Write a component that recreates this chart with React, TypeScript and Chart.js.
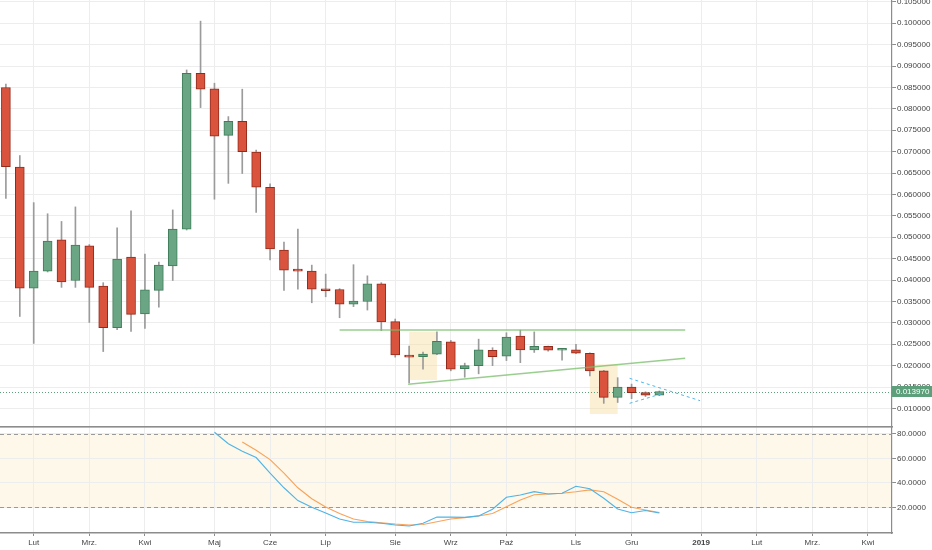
import React, { useEffect, useRef } from "react";
import { Chart, registerables } from "chart.js";

Chart.register(...registerables);

// ---------- data ----------
const weeks = [
  "2018-01-22", "2018-01-29", "2018-02-05", "2018-02-12", "2018-02-19", "2018-02-26",
  "2018-03-05", "2018-03-12", "2018-03-19", "2018-03-26", "2018-04-02", "2018-04-09",
  "2018-04-16", "2018-04-23", "2018-04-30", "2018-05-07", "2018-05-14", "2018-05-21",
  "2018-05-28", "2018-06-04", "2018-06-11", "2018-06-18", "2018-06-25", "2018-07-02",
  "2018-07-09", "2018-07-16", "2018-07-23", "2018-07-30", "2018-08-06", "2018-08-13",
  "2018-08-20", "2018-08-27", "2018-09-03", "2018-09-10", "2018-09-17", "2018-09-24",
  "2018-10-01", "2018-10-08", "2018-10-15", "2018-10-22", "2018-10-29", "2018-11-05",
  "2018-11-12", "2018-11-19", "2018-11-26", "2018-12-03", "2018-12-10", "2018-12-17",
];
const opens = [
  0.0850, 0.0664, 0.0381, 0.0421, 0.0494, 0.0399, 0.0480, 0.0386, 0.0289, 0.0454, 0.0321, 0.0376,
  0.0433, 0.0519, 0.0883, 0.0847, 0.0738, 0.0771, 0.0699, 0.0617, 0.0470, 0.0425, 0.0421, 0.0378,
  0.0378, 0.0344, 0.0350, 0.0391, 0.0303, 0.0224, 0.0221, 0.0227, 0.0256, 0.0193, 0.0200, 0.0236,
  0.0222, 0.0269, 0.0237, 0.0245, 0.0236, 0.0237, 0.0229, 0.0188, 0.0126, 0.0150, 0.0137, 0.0131,
];
const highs = [
  0.0858, 0.0691, 0.0581, 0.0555, 0.0537, 0.0571, 0.0483, 0.0394, 0.0522, 0.0562, 0.0461, 0.0442,
  0.0564, 0.0891, 0.1005, 0.0860, 0.0782, 0.0846, 0.0704, 0.0625, 0.0489, 0.0519, 0.0435, 0.0414,
  0.0380, 0.0436, 0.0410, 0.0394, 0.0309, 0.0246, 0.0232, 0.0279, 0.0259, 0.0206, 0.0262, 0.0242,
  0.0277, 0.0283, 0.0279, 0.0246, 0.0240, 0.0250, 0.0230, 0.0189, 0.0172, 0.0157, 0.0139, 0.0141,
];
const lows = [
  0.0591, 0.0315, 0.0252, 0.0419, 0.0383, 0.0383, 0.0301, 0.0233, 0.0284, 0.0280, 0.0287, 0.0337,
  0.0399, 0.0517, 0.0803, 0.0589, 0.0626, 0.0649, 0.0558, 0.0447, 0.0376, 0.0379, 0.0347, 0.0361,
  0.0312, 0.0338, 0.0330, 0.0282, 0.0220, 0.0160, 0.0192, 0.0226, 0.0188, 0.0173, 0.0181, 0.0200,
  0.0212, 0.0207, 0.0231, 0.0234, 0.0213, 0.0228, 0.0176, 0.0112, 0.0114, 0.0123, 0.0128, 0.0130,
];
const closes = [
  0.0665, 0.0381, 0.0421, 0.0491, 0.0396, 0.0482, 0.0383, 0.0289, 0.0449, 0.0320, 0.0377, 0.0435,
  0.0519, 0.0883, 0.0846, 0.0736, 0.0771, 0.0700, 0.0617, 0.0473, 0.0423, 0.0421, 0.0379, 0.0375,
  0.0344, 0.0351, 0.0391, 0.0302, 0.0225, 0.0220, 0.0227, 0.0257, 0.0192, 0.0200, 0.0237, 0.0221,
  0.0267, 0.0237, 0.0245, 0.0236, 0.0238, 0.0229, 0.0188, 0.0126, 0.0150, 0.0137, 0.0131, 0.01397,
];

// stochastic oscillator (%K blue, %D orange)
const stochKWeeks = [
  "2018-05-07", "2018-05-14", "2018-05-21", "2018-05-28", "2018-06-04", "2018-06-11", "2018-06-18",
  "2018-06-25", "2018-07-02", "2018-07-09", "2018-07-16", "2018-07-23", "2018-07-30", "2018-08-06",
  "2018-08-13", "2018-08-20", "2018-08-27", "2018-09-03", "2018-09-10", "2018-09-17", "2018-09-24",
  "2018-10-01", "2018-10-08", "2018-10-15", "2018-10-22", "2018-10-29", "2018-11-05", "2018-11-12",
  "2018-11-19", "2018-11-26", "2018-12-03", "2018-12-10", "2018-12-17",
];
const stochK = [
  81.4, 72.0, 65.8, 60.7, 48.0, 36.0, 25.5, 20.0, 15.4, 10.5, 7.8, 7.8, 7.0, 5.5, 4.7, 6.9, 12.0,
  12.0, 11.8, 13.0, 18.4, 28.2, 30.1, 32.8, 30.9, 31.5, 37.2, 35.2, 27.4, 18.6, 15.6, 17.4, 15.4,
];
const stochDWeeks = stochKWeeks.slice(2);
const stochD = [
  73.4, 66.7, 59.0, 48.0, 36.0, 27.0, 20.3, 15.0, 10.4, 8.4, 7.3, 6.3, 5.6, 6.0, 8.2, 10.5,
  11.6, 12.9, 15.0, 20.5, 26.0, 30.3, 30.9, 31.5, 32.7, 34.3, 32.8, 26.6, 20.0, 17.8, 15.8,
];

// month tick marks on the time axis
const monthTickDates = [
  "2018-02-05", "2018-03-05", "2018-04-02", "2018-05-07", "2018-06-04", "2018-07-02", "2018-08-06",
  "2018-09-03", "2018-10-01", "2018-11-05", "2018-12-03", "2019-01-07", "2019-02-04", "2019-03-04",
  "2019-04-01",
];
const monthLabels = [
  "Lut", "Mrz.", "Kwi", "Maj", "Cze", "Lip", "Sie", "Wrz", "Paź", "Lis", "Gru", "2019", "Lut", "Mrz.", "Kwi",
];
const priceTicks = [
  0.010, 0.015, 0.020, 0.025, 0.030, 0.035, 0.040, 0.045, 0.050, 0.055,
  0.060, 0.065, 0.070, 0.075, 0.080, 0.085, 0.090, 0.095, 0.100, 0.105,
];
const stochTicks = [20, 40, 60, 80];

// drawings (trend lines, zones) in time/price
const resistanceLine = [
  { d: "2018-07-09", days: 0, p: 0.02834 },
  { d: "2018-12-24", days: 6, p: 0.02834 },
];
const supportLine = [
  { d: "2018-08-06", days: 6.5, p: 0.01565 },
  { d: "2018-12-24", days: 6, p: 0.02172 },
];
const wedgeUpper = [
  { d: "2018-11-26", days: 6, p: 0.01705 },
  { d: "2018-12-31", days: 6.5, p: 0.01182 },
];
const wedgeLower = [
  { d: "2018-11-26", days: 6, p: 0.01121 },
  { d: "2018-12-17", days: 2, p: 0.01355 },
];
const zones = [
  { from: "2018-08-13", to: "2018-08-27", low: 0.01666, high: 0.02787 },
  { from: "2018-11-12", to: "2018-11-26", low: 0.00871, high: 0.02032 },
];

// ---------- helpers ----------
const ORIGIN = Date.UTC(2018, 1, 5);
const WEEK_MS = 7 * 86400000;
const wk = (d: string, days = 0) => (Date.parse(d + "T00:00:00Z") - ORIGIN) / WEEK_MS + days / 7;

const FONT = "'Liberation Sans', Arial, sans-serif";
const TEXT = "#454545";
const GRID = "#ededed";
const AXIS = "#8c8c8c";
const UP_FILL = "#6aa584";
const UP_LINE = "#3f7d5a";
const DN_FILL = "#d9533d";
const DN_LINE = "#922a1c";

const X_MIN = -2.424;
const X_MAX = 61.73;
const monthPositions = monthTickDates.map((d) => wk(d));
const lastClose = closes[closes.length - 1];

const xTicksBuilder = (s: any) => {
  s.ticks = monthPositions.map((v) => ({ value: v }));
};

const zonePlugin = {
  id: "zones",
  beforeDatasetsDraw(chart: any) {
    const { ctx, scales, chartArea } = chart;
    const x = scales.x;
    const y = scales.y;
    ctx.save();
    ctx.beginPath();
    ctx.rect(chartArea.left, chartArea.top, chartArea.width, chartArea.height);
    ctx.clip();
    ctx.fillStyle = "rgba(249, 222, 160, 0.45)";
    zones.forEach((z) => {
      const x0 = x.getPixelForValue(wk(z.from));
      const x1 = x.getPixelForValue(wk(z.to));
      const y0 = y.getPixelForValue(z.high);
      const y1 = y.getPixelForValue(z.low);
      ctx.fillRect(x0, y0, x1 - x0, y1 - y0);
    });
    // last price dotted line
    const yp = y.getPixelForValue(lastClose);
    ctx.strokeStyle = "#5e9f7b";
    ctx.lineWidth = 1;
    ctx.setLineDash([1, 2]);
    ctx.beginPath();
    ctx.moveTo(chartArea.left, Math.round(yp) + 0.5);
    ctx.lineTo(chartArea.right, Math.round(yp) + 0.5);
    ctx.stroke();
    ctx.restore();
  },
  afterDraw(chart: any) {
    const { ctx, scales, chartArea, width } = chart;
    const yp = scales.y.getPixelForValue(lastClose);
    ctx.save();
    ctx.fillStyle = "#5c9f7a";
    ctx.fillRect(chartArea.right, yp - 5.5, width - chartArea.right, 11);
    ctx.fillStyle = "#ffffff";
    ctx.font = `8px ${FONT}`;
    ctx.textBaseline = "middle";
    ctx.textAlign = "left";
    ctx.fillText(lastClose.toFixed(6), chartArea.right + 4, yp);
    ctx.restore();
  },
};

const stochPlugin = {
  id: "stochBand",
  beforeDraw(chart: any) {
    const { ctx, scales, chartArea } = chart;
    const y = scales.y;
    const y80 = y.getPixelForValue(80);
    const y20 = y.getPixelForValue(20);
    ctx.save();
    ctx.fillStyle = "#fdf8e9";
    ctx.fillRect(chartArea.left, y80, chartArea.width, y20 - y80);
    ctx.restore();
  },
  beforeDatasetsDraw(chart: any) {
    const { ctx, scales, chartArea } = chart;
    const y = scales.y;
    ctx.save();
    ctx.strokeStyle = "#9a9a9a";
    ctx.lineWidth = 1;
    ctx.setLineDash([4, 3]);
    [80, 20].forEach((v) => {
      const yy = Math.round(y.getPixelForValue(v)) + 0.5;
      ctx.beginPath();
      ctx.moveTo(chartArea.left, yy);
      ctx.lineTo(chartArea.right, yy);
      ctx.stroke();
    });
    ctx.restore();
  },
  afterDraw(chart: any) {
    const { ctx, chartArea } = chart;
    ctx.save();
    ctx.fillStyle = AXIS;
    ctx.fillRect(0, 0, chartArea.right + 1, 1.6);
    ctx.restore();
  },
};

function lineDs(pts: { d: string; days: number; p: number }[], color: string, dash: number[] = [], width = 1.2) {
  return {
    type: "line" as const,
    data: pts.map((q) => ({ x: wk(q.d, q.days), y: q.p })),
    borderColor: color,
    borderWidth: width,
    borderDash: dash,
    pointRadius: 0,
    fill: false,
    order: 0,
  };
}

export default function App() {
  const mainRef = useRef<HTMLCanvasElement>(null);
  const stochRef = useRef<HTMLCanvasElement>(null);

  useEffect(() => {
    const pos = weeks.map((d) => wk(d));
    const isUp = opens.map((o, i) => closes[i] >= o);

    const main = new Chart(mainRef.current as HTMLCanvasElement, {
      type: "bar",
      data: {
        datasets: [
          {
            type: "bar",
            data: pos.map((x, i) => ({ x, y: [lows[i], highs[i]] })) as any,
            backgroundColor: "#9b9b9b",
            barThickness: 1,
            grouped: false,
            order: 2,
          } as any,
          {
            type: "bar",
            data: pos.map((x, i) => ({ x, y: [opens[i], closes[i]] })) as any,
            backgroundColor: isUp.map((u) => (u ? UP_FILL : DN_FILL)),
            borderColor: isUp.map((u) => (u ? UP_LINE : DN_LINE)),
            borderWidth: 1,
            borderSkipped: false,
            barThickness: 9,
            minBarLength: 2,
            grouped: false,
            order: 1,
          } as any,
          lineDs(resistanceLine, "rgba(120, 190, 105, 0.75)", [], 1.5) as any,
          lineDs(supportLine, "rgba(120, 190, 105, 0.75)", [], 1.5) as any,
          lineDs(wedgeUpper, "#52b6ea", [3, 3], 1) as any,
          lineDs(wedgeLower, "#52b6ea", [3, 3], 1) as any,
        ],
      },
      options: {
        animation: false,
        responsive: false,
        events: [],
        layout: { padding: 0 },
        plugins: { legend: { display: false }, tooltip: { enabled: false } },
        scales: {
          x: {
            type: "linear",
            min: X_MIN,
            max: X_MAX,
            offset: false,
            afterBuildTicks: xTicksBuilder,
            ticks: { display: false },
            grid: { color: GRID, drawTicks: false, offset: false },
            border: { display: false },
            afterFit: (s: any) => {
              s.height = 0;
              s.paddingLeft = 0;
              s.paddingRight = 0;
            },
          } as any,
          y: {
            type: "linear",
            position: "right",
            min: 0.00591,
            max: 0.10544,
            beginAtZero: false,
            afterBuildTicks: (s: any) => {
              s.ticks = priceTicks.map((v) => ({ value: v }));
            },
            ticks: {
              callback: (v: any) => Number(v).toFixed(6),
              font: { family: FONT, size: 8 },
              color: TEXT,
              padding: 1,
            },
            grid: { color: GRID, tickColor: AXIS, tickLength: 4 },
            border: { color: AXIS, width: 1.2 },
            afterFit: (s: any) => {
              s.width = 40;
              s.paddingTop = 0;
              s.paddingBottom = 0;
            },
          } as any,
        },
      },
      plugins: [zonePlugin],
    });

    const stoch = new Chart(stochRef.current as HTMLCanvasElement, {
      type: "line",
      data: {
        datasets: [
          {
            data: stochKWeeks.map((d, i) => ({ x: wk(d), y: stochK[i] })),
            borderColor: "#4fb3e6",
            borderWidth: 1.1,
            pointRadius: 0,
            fill: false,
          },
          {
            data: stochDWeeks.map((d, i) => ({ x: wk(d), y: stochD[i] })),
            borderColor: "#f9a25a",
            borderWidth: 1.1,
            pointRadius: 0,
            fill: false,
          },
        ],
      },
      options: {
        animation: false,
        responsive: false,
        events: [],
        layout: { padding: { top: 1, left: 0, right: 0, bottom: 0 } },
        plugins: { legend: { display: false }, tooltip: { enabled: false } },
        scales: {
          x: {
            type: "linear",
            min: X_MIN,
            max: X_MAX,
            offset: false,
            afterBuildTicks: xTicksBuilder,
            ticks: {
              callback: (_v: any, i: number) => monthLabels[i],
              font: (c: any) => ({
                family: FONT,
                size: 8,
                weight: c.tick && c.tick.label === "2019" ? "bold" : "normal",
              }),
              color: TEXT,
              padding: 1.5,
              maxRotation: 0,
              autoSkip: false,
            },
            grid: { color: GRID, tickColor: AXIS, tickLength: 3, offset: false },
            border: { color: AXIS, width: 1.6 },
            afterFit: (s: any) => {
              s.height = 17;
              s.paddingLeft = 0;
              s.paddingRight = 0;
            },
          } as any,
          y: {
            type: "linear",
            position: "right",
            min: -1,
            max: 85.7,
            afterBuildTicks: (s: any) => {
              s.ticks = stochTicks.map((v) => ({ value: v }));
            },
            ticks: {
              callback: (v: any) => Number(v).toFixed(4),
              font: { family: FONT, size: 8 },
              color: TEXT,
              padding: 1,
            },
            grid: { color: GRID, tickColor: AXIS, tickLength: 4 },
            border: { color: AXIS, width: 1.2 },
            afterFit: (s: any) => {
              s.width = 40;
              s.paddingTop = 0;
              s.paddingBottom = 0;
            },
          } as any,
        },
      },
      plugins: [stochPlugin],
    });

    return () => {
      main.destroy();
      stoch.destroy();
    };
  }, []);

  return (
    <div
      style={{
        position: "absolute",
        left: 0,
        top: 0,
        width: 932,
        height: 550,
        background: "#ffffff",
        overflow: "hidden",
      }}
    >
      <canvas
        ref={mainRef}
        width={932}
        height={426}
        style={{ position: "absolute", left: 0, top: 0, width: 932, height: 426 }}
      />
      <canvas
        ref={stochRef}
        width={932}
        height={124}
        style={{ position: "absolute", left: 0, top: 426, width: 932, height: 124 }}
      />
    </div>
  );
}
